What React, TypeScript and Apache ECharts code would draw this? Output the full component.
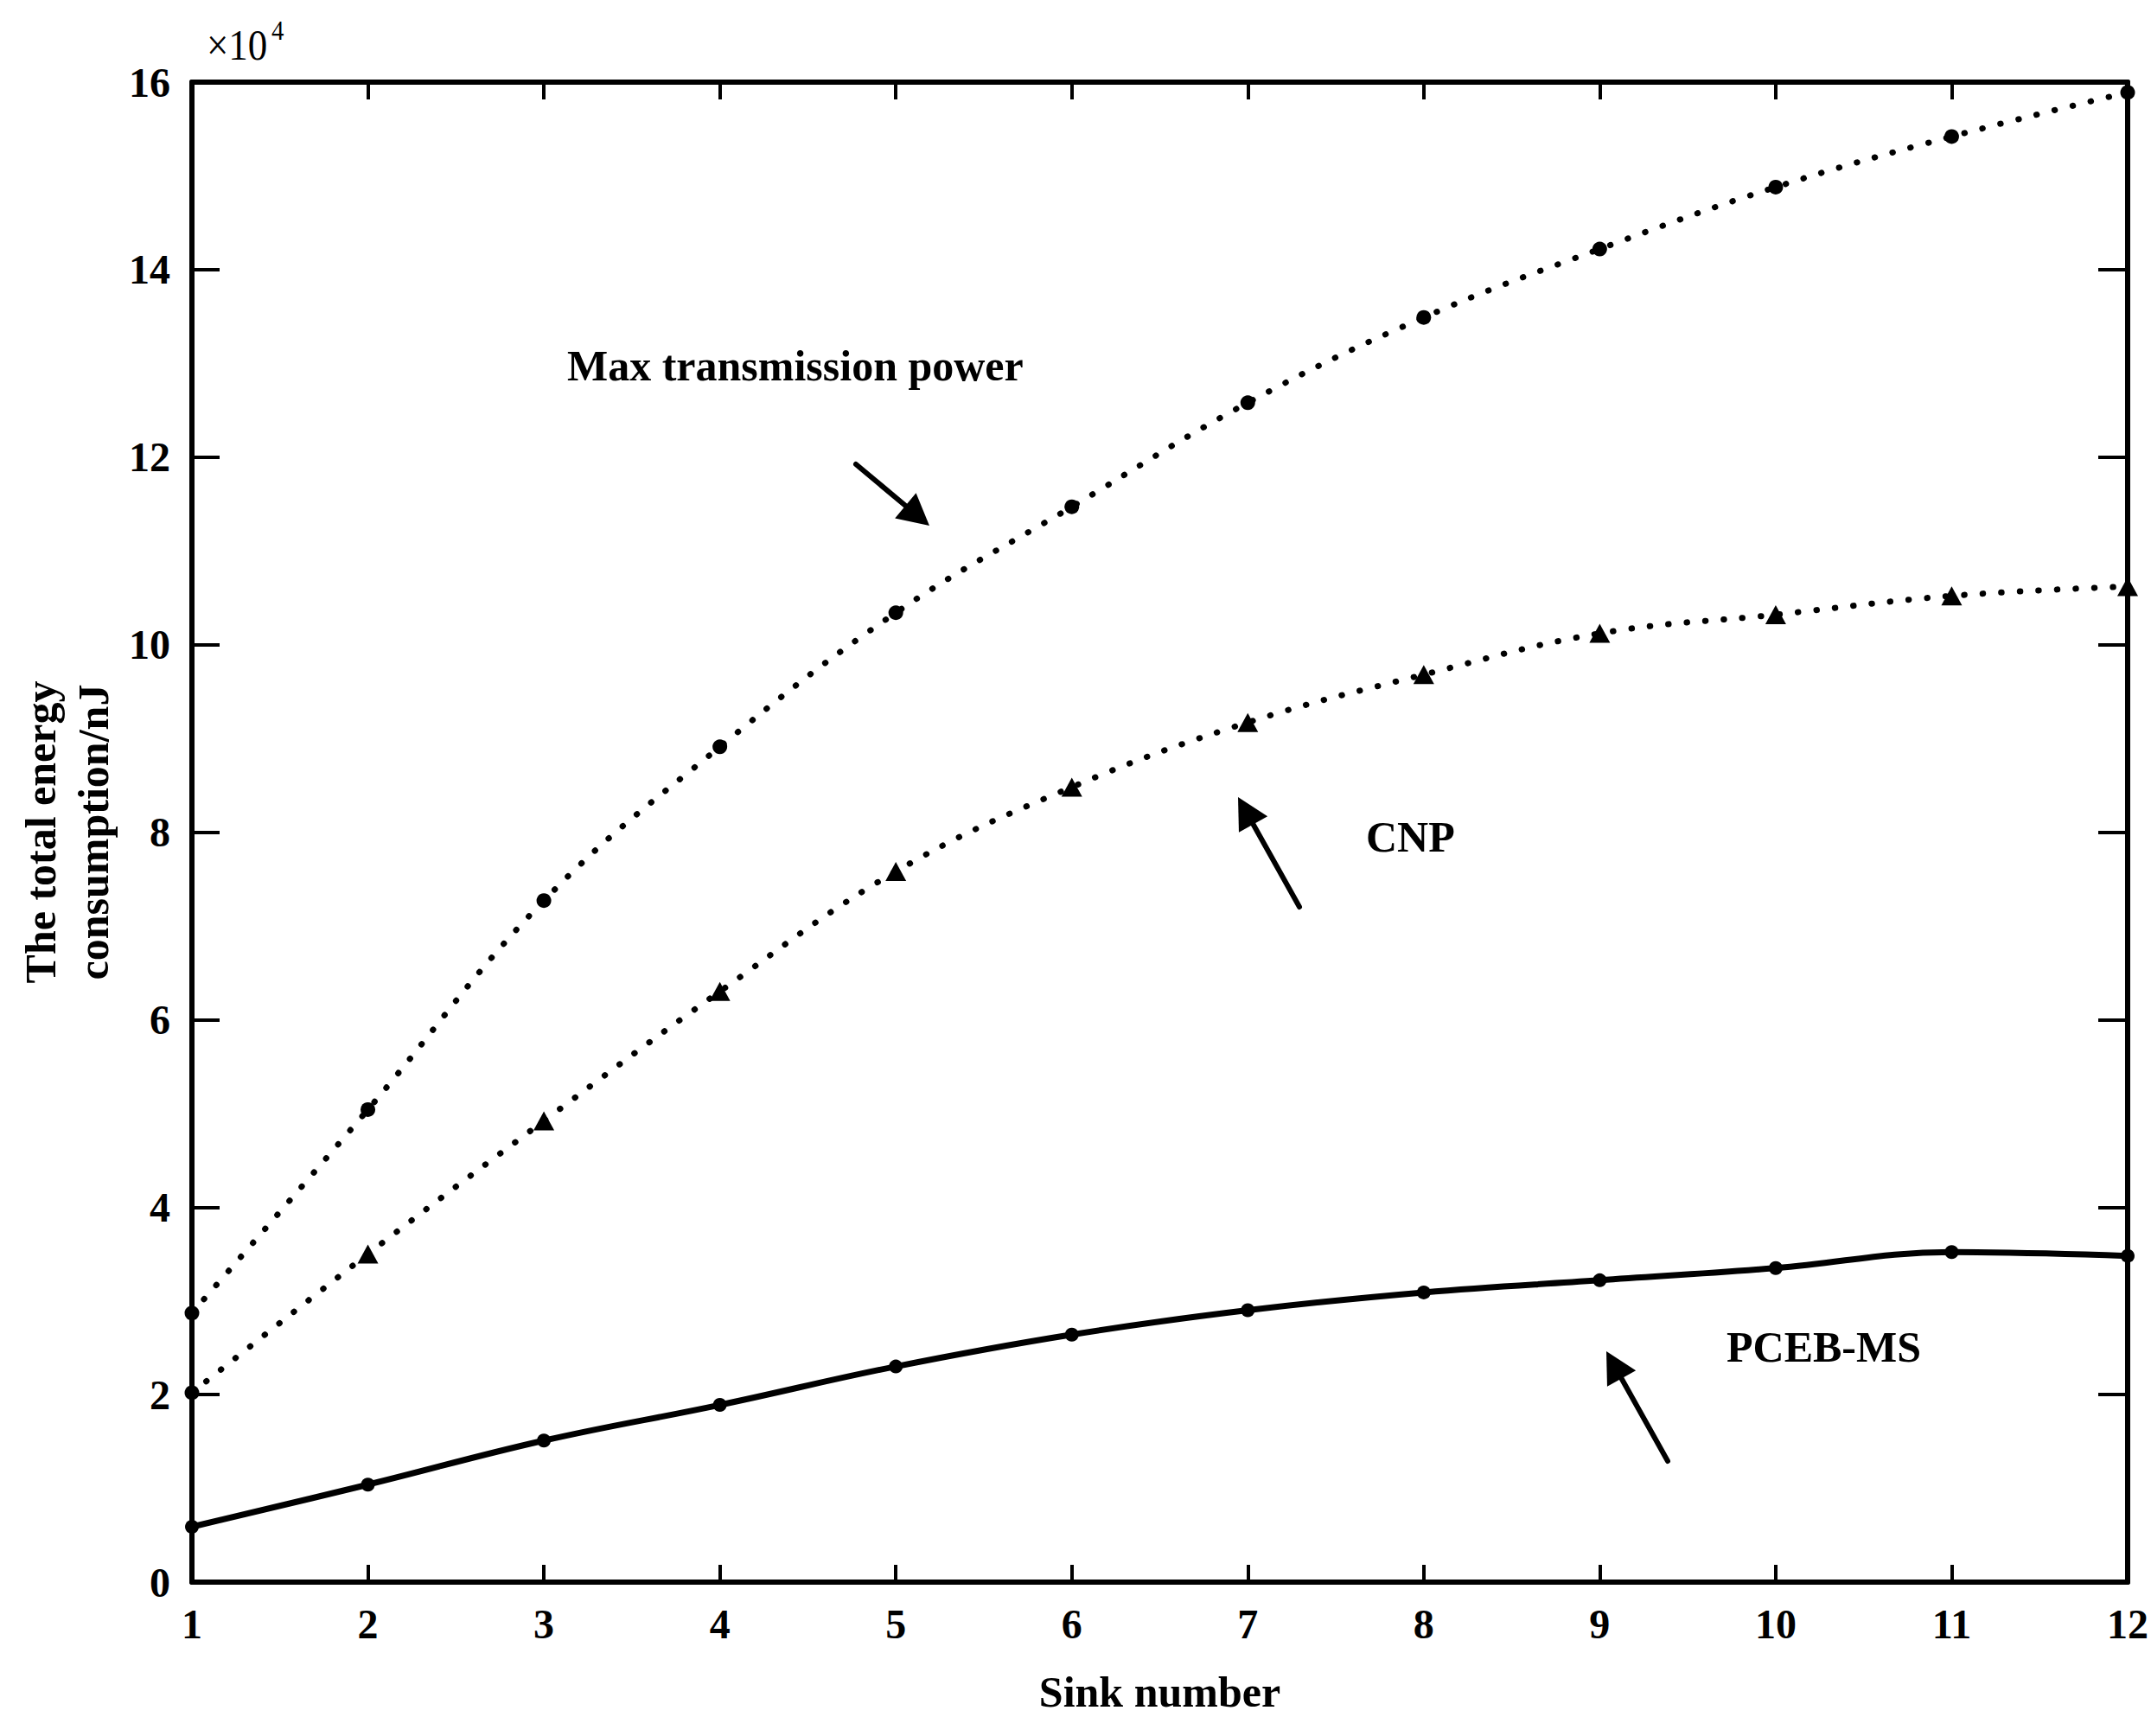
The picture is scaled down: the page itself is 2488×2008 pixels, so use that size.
import React, { useEffect, useRef } from "react";
import * as echarts from "echarts";

// ---- data (values in units of 10^4 nJ) ----
const sinkNumbers = [1, 2, 3, 4, 5, 6, 7, 8, 9, 10, 11, 12];
const maxTransmissionPower = [2.87, 5.04, 7.27, 8.91, 10.34, 11.47, 12.58, 13.49, 14.22, 14.88, 15.42, 15.89];
const cnpValues = [2.02, 3.5, 4.92, 6.3, 7.58, 8.48, 9.17, 9.68, 10.12, 10.32, 10.52, 10.62];
const pcebMsValues = [0.59, 1.04, 1.51, 1.89, 2.3, 2.64, 2.9, 3.09, 3.22, 3.35, 3.52, 3.48];
const yTicks = [0, 2, 4, 6, 8, 10, 12, 14, 16];

const FONT = '"Liberation Serif", "Times New Roman", serif';

function pairs(xs: number[], ys: number[]) {
  return xs.map((x, i) => [x, ys[i]]);
}

function arrow(x1: number, y1: number, x2: number, y2: number) {
  const len = 36;
  const hw = 19;
  const a = Math.atan2(y2 - y1, x2 - x1);
  const ux = Math.cos(a);
  const uy = Math.sin(a);
  const bx = x2 - ux * len;
  const by = y2 - uy * len;
  const px = -uy;
  const py = ux;
  return [
    {
      type: "line",
      shape: { x1, y1, x2: bx + ux * 4, y2: by + uy * 4 },
      style: { stroke: "#000", lineWidth: 6, lineCap: "round" },
      z: 100,
    },
    {
      type: "polygon",
      shape: {
        points: [
          [x2, y2],
          [bx + px * hw, by + py * hw],
          [bx - px * hw, by - py * hw],
        ],
      },
      style: { fill: "#000" },
      z: 100,
    },
  ];
}

function label(text: string, x: number, y: number, opts: any = {}) {
  return {
    type: "text",
    x,
    y,
    z: 100,
    scaleX: opts.scaleX ?? 1,
    style: {
      text,
      fontFamily: FONT,
      fontSize: opts.fontSize ?? 50,
      fontWeight: opts.fontWeight ?? "bold",
      fill: "#000",
      align: "left",
      verticalAlign: "middle",
      textAlign: "left",
      textVerticalAlign: "middle",
    },
  };
}

export default function App() {
  const ref = useRef<HTMLDivElement>(null);

  useEffect(() => {
    if (!ref.current) return;
    const chart = echarts.init(ref.current, null, { renderer: "svg" });

    const tickLabelStyle = {
      fontFamily: FONT,
      fontWeight: "bold" as const,
      fontSize: 48,
      color: "#000",
    };

    const cnpData = pairs(sinkNumbers, cnpValues).map((p, i) =>
      i === 0 ? { value: p, symbol: "circle", symbolSize: 17 } : { value: p }
    );

    const option: any = {
      animation: false,
      backgroundColor: "#fff",
      grid: { left: 222, right: 24, top: 95, bottom: 178, containLabel: false },
      xAxis: [
        {
          type: "value",
          min: 1,
          max: 12,
          interval: 1,
          position: "bottom",
          name: "Sink number",
          nameLocation: "middle",
          nameGap: 102,
          nameTextStyle: { fontFamily: FONT, fontWeight: "bold", fontSize: 50, color: "#000" },
          axisLine: { show: true, onZero: false, lineStyle: { color: "#000", width: 6 } },
          axisTick: { show: true, inside: true, length: 20, lineStyle: { color: "#000", width: 4 } },
          axisLabel: { ...tickLabelStyle, margin: 24 },
          splitLine: { show: false },
        },
        {
          type: "value",
          min: 1,
          max: 12,
          interval: 1,
          position: "top",
          axisLine: { show: true, onZero: false, lineStyle: { color: "#000", width: 6 } },
          axisTick: { show: true, inside: true, length: 20, lineStyle: { color: "#000", width: 4 } },
          axisLabel: { show: false },
          splitLine: { show: false },
        },
      ],
      yAxis: [
        {
          type: "value",
          min: yTicks[0],
          max: yTicks[yTicks.length - 1],
          interval: 2,
          position: "left",
          name: "The total energy\nconsumption/nJ",
          nameLocation: "middle",
          nameRotate: 90,
          nameGap: 82,
          nameTextStyle: {
            fontFamily: FONT,
            fontWeight: "bold",
            fontSize: 50,
            lineHeight: 61,
            color: "#000",
            align: "center",
          },
          axisLine: { show: true, onZero: false, lineStyle: { color: "#000", width: 6 } },
          axisTick: { show: true, inside: true, length: 32, lineStyle: { color: "#000", width: 4 } },
          axisLabel: { ...tickLabelStyle, margin: 25, verticalAlign: "middle", padding: [36, 0, 0, 0] },
          splitLine: { show: false },
        },
        {
          type: "value",
          min: yTicks[0],
          max: yTicks[yTicks.length - 1],
          interval: 2,
          position: "right",
          axisLine: { show: true, onZero: false, lineStyle: { color: "#000", width: 6 } },
          axisTick: { show: true, inside: true, length: 34, lineStyle: { color: "#000", width: 4 } },
          axisLabel: { show: false },
          splitLine: { show: false },
        },
      ],
      series: [
        {
          name: "Max transmission power",
          type: "line",
          smooth: 0.4,
          data: pairs(sinkNumbers, maxTransmissionPower),
          symbol: "circle",
          symbolSize: 17,
          itemStyle: { color: "#000" },
          lineStyle: { color: "#000", width: 7, type: [0.5, 21], cap: "round" },
          z: 3,
        },
        {
          name: "CNP",
          type: "line",
          smooth: 0.4,
          data: cnpData,
          symbol: "triangle",
          symbolSize: [24, 22],
          itemStyle: { color: "#000" },
          lineStyle: { color: "#000", width: 7, type: [0.5, 21], cap: "round" },
          z: 3,
        },
        {
          name: "PCEB-MS",
          type: "line",
          smooth: 0.4,
          data: pairs(sinkNumbers, pcebMsValues),
          symbol: "circle",
          symbolSize: 16,
          itemStyle: { color: "#000" },
          lineStyle: { color: "#000", width: 7, type: "solid" },
          z: 3,
        },
      ],
      graphic: [
        label("×10", 239, 52, { fontSize: 50, fontWeight: "normal", scaleX: 0.9 }),
        label("4", 314, 35, { fontSize: 32, fontWeight: "normal", scaleX: 0.9 }),
        label("Max transmission power", 656, 423),
        label("CNP", 1580, 968),
        label("PCEB-MS", 1997, 1558),
        ...arrow(990, 537, 1075, 608),
        ...arrow(1503, 1049, 1432, 922),
        ...arrow(1929, 1690, 1858, 1563),
      ],
    };

    chart.setOption(option);
    return () => {
      chart.dispose();
    };
  }, []);

  return (
    <div
      ref={ref}
      style={{ position: "absolute", left: 0, top: 0, width: 2488, height: 2008, background: "#fff" }}
    />
  );
}
